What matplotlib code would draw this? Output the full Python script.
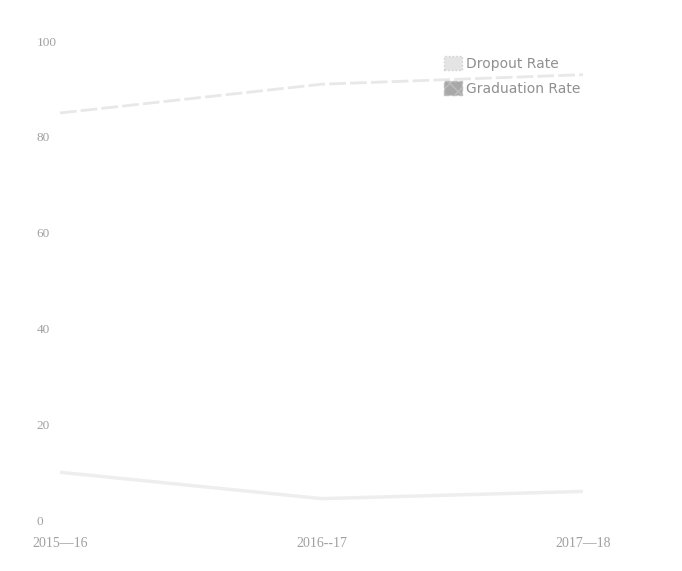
import matplotlib.pyplot as plt
from matplotlib.patches import Patch

years = ['2015\u201416', '2016--17', '2017\u201418']
dropout_rate = [10, 4.5, 6]
graduation_rate = [85, 91, 93]

fig = plt.figure(figsize=(6.82, 5.71), dpi=100)
ax = fig.add_axes([0.088, 0.089, 0.767, 0.839])

x = range(len(years))
ax.plot(x, dropout_rate, color='#eeeeee', linewidth=2.5, solid_capstyle='round')
ax.plot(x, graduation_rate, color='#e8e8e8', linewidth=2, linestyle=(0, (6, 1.5)))

ax.set_xlim(0, 2)
ax.set_ylim(0, 100)
ax.set_yticks([0, 20, 40, 60, 80, 100])
ax.set_xticks(list(x))
ax.set_xticklabels(years)
for s in ax.spines.values():
    s.set_visible(False)
ax.tick_params(length=0, colors='#a0a0a0')
ax.tick_params(axis='y', pad=17, labelsize=9.5)
ax.tick_params(axis='x', pad=12, labelsize=10)
for lab in ax.get_yticklabels():
    lab.set_horizontalalignment('left')
for lab in ax.get_xticklabels() + ax.get_yticklabels():
    lab.set_family('Liberation Serif')

# legend with rough patches
handles = [
    Patch(facecolor='#e4e4e4', edgecolor='#d0d0d0', linestyle=':', label='Dropout Rate'),
    Patch(facecolor='#a8a8a8', edgecolor='#bdbdbd', linestyle='--', hatch='xx', label='Graduation Rate'),
]
leg = ax.legend(handles=handles, loc='upper left', bbox_to_anchor=(0.71, 0.995),
                frameon=False, fontsize=10, handlelength=1.3, handleheight=1.2,
                handletextpad=0.3, labelspacing=0.75)
for t in leg.get_texts():
    t.set_color('#909090')

fig.savefig('out.png', dpi=100)
